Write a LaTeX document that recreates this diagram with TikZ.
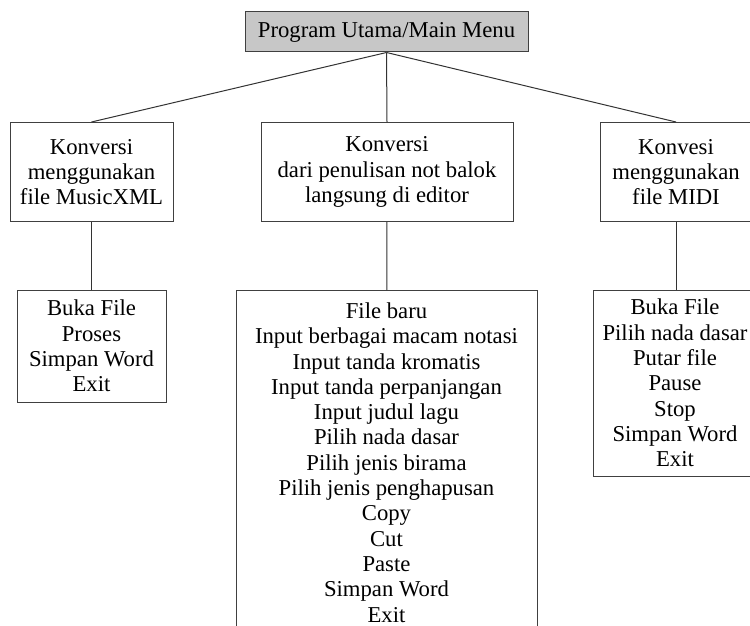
\documentclass[tikz,border=0pt]{standalone}
\usepackage{fontspec}
\setmainfont{Liberation Serif}

\begin{document}
\begin{tikzpicture}[x=1pt, y=-1pt,
  menubox/.style={draw=black!75, line width=1pt, align=center, inner sep=0pt,
    font=\fontsize{22.7}{25.3}\selectfont},
  link/.style={draw=black!80, line width=1pt}]
\useasboundingbox (0,0) rectangle (750,626);
\clip (0,0) rectangle (750,626);
% main menu
\node[menubox, fill=black!22, minimum width=283pt, minimum height=40pt] (main) at (386.5,32) {Program Utama/Main Menu};
% conversion modes
\node[menubox, minimum width=163pt, minimum height=99pt] (xml) at (91.5,172) {Konversi\\menggunakan\\file MusicXML};
\node[menubox, minimum width=252pt, minimum height=99pt] (editor) at (387,172) {Konversi\\dari penulisan not balok\\langsung di editor};
\node[menubox, minimum width=152pt, minimum height=99pt] (midi) at (676,172) {Konvesi\\menggunakan\\file MIDI};
% sub menus
\node[menubox, minimum width=149pt, minimum height=112pt] (xmlmenu) at (91.5,346) {Buka File\\Proses\\Simpan Word\\Exit};
\node[menubox, minimum width=301pt, minimum height=344pt, anchor=north] (editormenu) at (386.5,290) {File baru\\Input berbagai macam notasi\\Input tanda kromatis\\Input tanda perpanjangan\\Input judul lagu\\Pilih nada dasar\\Pilih jenis birama\\Pilih jenis penghapusan\\Copy\\Cut\\Paste\\Simpan Word\\Exit};
\node[menubox, minimum width=164pt, minimum height=186pt] (midimenu) at (675,383) {Buka File\\Pilih nada dasar\\Putar file\\Pause\\Stop\\Simpan Word\\Exit};
% links
\draw[link] (main.south) -- (xml.north);
\draw[link] (main.south) -- (editor.north);
\draw[link] (main.south) -- (midi.north);
\draw[link] (xml) -- (xmlmenu);
\draw[link] (editor) -- (editormenu);
\draw[link] (midi.south) -- (midimenu.north -| midi.south);
\end{tikzpicture}
\end{document}
